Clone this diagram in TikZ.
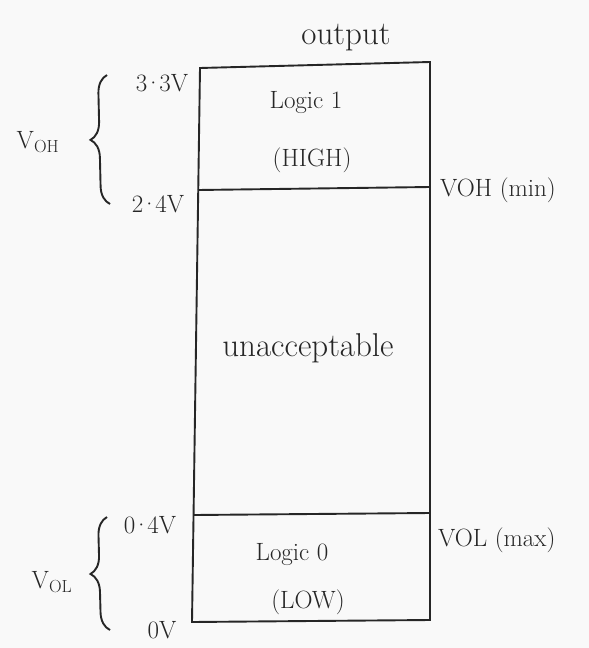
\documentclass[tikz,border=0pt]{standalone}
\usetikzlibrary{decorations.pathreplacing}
\begin{document}
\begin{tikzpicture}[x=1pt,y=-1pt,
  ink/.style={line width=1.9pt, black!85},
  lbl/.style={font=\fontsize{25}{30}\selectfont, text=black!85, inner sep=0pt},
  big/.style={lbl, font=\fontsize{33}{38}\selectfont},
  curly/.style={ink, decorate, decoration={brace, amplitude=18pt}}]
\fill[white!95!gray] (0,0) rectangle (589,648);
\useasboundingbox (0,0) rectangle (589,648);

% corners of the output column and its level lines
\coordinate (tl) at (200,68);
\coordinate (tr) at (430,62);
\coordinate (hl) at (198,190);
\coordinate (hr) at (430,187);
\coordinate (ll) at (194,515);
\coordinate (lr) at (430,513);
\coordinate (bl) at (192,622);
\coordinate (br) at (430,620);

\draw[ink] (tl) -- (tr) -- (br) -- (bl) -- cycle;
\draw[ink] (hl) -- (hr);
\draw[ink] (ll) -- (lr);

% zone texts
\node[big] (title) at (346,38) {output};
\node[lbl] (hi1) at (306,103) {Logic 1};
\node[lbl] (hi2) at (312,160) {(HIGH)};
\node[big] (mid) at (308,348) {unacceptable};
\node[lbl] (lo1) at (292,555) {Logic 0};
\node[lbl] (lo2) at (308,602) {(LOW)};

% voltage levels
\newcommand{\mdot}{\kern-3pt·\kern-3pt}
\node[lbl] (v33) at (162,83) {3\mdot 3V};
\node[lbl] (v24) at (158,204) {2\mdot 4V};
\node[lbl] (v04) at (150,525) {0\mdot 4V};
\node[lbl] (v00) at (162,630) {0V};

% limits on the right
\node[lbl, anchor=west] (vohmin) at (440,190) {VOH (min)};
\node[lbl, anchor=west] (volmax) at (438,540) {VOL (max)};

% ranges on the left
\draw[curly] (110,204) -- (107,75);
\draw[curly] (110,630) -- (107,517);
\node[lbl] (voh) at (38,142) {V\textsubscript{OH}};
\node[lbl] (vol) at (52,582) {V\textsubscript{OL}};
\end{tikzpicture}
\end{document}
